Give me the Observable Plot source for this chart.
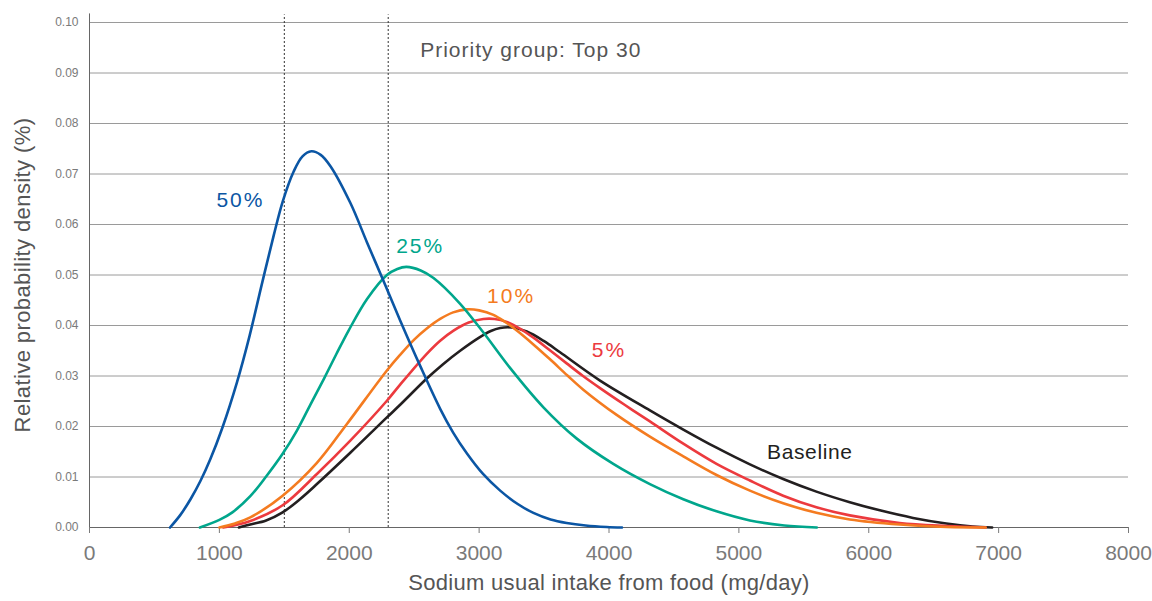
<!DOCTYPE html>
<html>
<head>
<meta charset="utf-8">
<script src="https://cdn.jsdelivr.net/npm/d3@7"></script>
<script src="https://cdn.jsdelivr.net/npm/@observablehq/plot@0.6"></script>
<style>
  html, body { margin: 0; padding: 0; background: #fff; }
  #chart svg { display: block; }
</style>
</head>
<body>
<div id="chart"></div>
<script>
// Tick values
const xTicks = [0, 1000, 2000, 3000, 4000, 5000, 6000, 7000, 8000];
const yTicks = [0, 0.01, 0.02, 0.03, 0.04, 0.05, 0.06, 0.07, 0.08, 0.09, 0.10];
const refLines = [1500, 2300];

// Series: 50% reduction (blue)
const s50X = [620, 700, 780, 854, 930, 1021, 1136, 1233, 1328, 1418, 1487, 1572, 1640, 1708, 1780, 1854, 2008, 2136, 2264, 2392, 2546, 2700, 2800, 2905, 3030, 3162, 3300, 3418, 3550, 3674, 3820, 3982, 4100];
const s50Y = [0, 0.0025, 0.0057, 0.0092, 0.0135, 0.0196, 0.0288, 0.038, 0.0483, 0.0578, 0.0645, 0.0705, 0.0735, 0.0745, 0.0738, 0.0716, 0.0643, 0.0565, 0.0488, 0.041, 0.032, 0.0235, 0.0188, 0.0147, 0.0106, 0.0073, 0.0046, 0.0029, 0.0016, 0.0009, 0.0004, 0.0001, 0];

// Series: 25% (teal)
const s25X = [850, 1000, 1100, 1238, 1360, 1487, 1597, 1700, 1802, 1900, 1995, 2136, 2290, 2370, 2440, 2550, 2649, 2854, 3033, 3238, 3495, 3752, 4033, 4315, 4572, 4828, 5085, 5350, 5600];
const s25Y = [0, 0.0015, 0.003, 0.0062, 0.0101, 0.0146, 0.0192, 0.0243, 0.0293, 0.0343, 0.039, 0.0452, 0.05, 0.0512, 0.0516, 0.0509, 0.0494, 0.0443, 0.0386, 0.0316, 0.0238, 0.0176, 0.0126, 0.0086, 0.0056, 0.0032, 0.0014, 0.0004, 0];

// Series: 10% (orange)
const s10X = [1000, 1120, 1238, 1487, 1751, 1982, 2290, 2392, 2500, 2597, 2700, 2800, 2905, 3000, 3110, 3200, 3290, 3420, 3546, 3680, 3802, 4059, 4315, 4572, 4828, 5085, 5341, 5597, 5854, 6238, 6600, 6900];
const s10Y = [0, 0.0008, 0.002, 0.0063, 0.0128, 0.0205, 0.0311, 0.0342, 0.0372, 0.0394, 0.0413, 0.0426, 0.0432, 0.043, 0.0421, 0.0407, 0.039, 0.0362, 0.0333, 0.0301, 0.0273, 0.0223, 0.018, 0.0141, 0.0104, 0.0073, 0.0048, 0.0029, 0.0016, 0.0006, 0.0001, 0];

// Series: 5% (red)
const s5X = [1030, 1238, 1487, 1751, 2008, 2290, 2392, 2597, 2700, 2803, 2920, 3033, 3120, 3213, 3320, 3418, 3540, 3674, 3800, 3931, 4120, 4315, 4572, 4828, 5085, 5341, 5597, 5854, 6238, 6600, 6900];
const s5Y = [0, 0.0013, 0.0044, 0.0106, 0.0172, 0.0251, 0.0283, 0.0344, 0.037, 0.039, 0.0406, 0.0413, 0.0413, 0.0407, 0.0393, 0.0376, 0.0352, 0.0325, 0.03, 0.0276, 0.0243, 0.021, 0.0166, 0.0126, 0.0093, 0.0063, 0.004, 0.0024, 0.0009, 0.0003, 0];

// Series: Baseline (black)
const sBX = [1150, 1238, 1360, 1487, 1620, 1751, 2008, 2290, 2392, 2597, 2720, 2854, 3000, 3090, 3162, 3250, 3367, 3500, 3623, 3931, 4315, 4572, 4828, 5085, 5341, 5597, 5854, 6085, 6341, 6597, 6800, 6950];
const sBY = [0, 0.0006, 0.0014, 0.003, 0.0056, 0.0086, 0.0148, 0.0218, 0.0243, 0.0295, 0.0323, 0.035, 0.0376, 0.0389, 0.0395, 0.0396, 0.0388, 0.0369, 0.0347, 0.0291, 0.0232, 0.0194, 0.0158, 0.0125, 0.0096, 0.0071, 0.005, 0.0034, 0.0019, 0.0008, 0.0002, 0];

// Series labels
const labelText = ["50%", "25%", "10%", "5%", "Baseline"];
const labelX = [1162, 2546, 3246, 4000, 5546];
const labelY = [0.0648, 0.0556, 0.0457, 0.035, 0.0148];
const labelColor = ["#0b56a4", "#00a68c", "#f47b20", "#ec3a3e", "#231f20"];

const titleText = "Priority group: Top 30";
const xLabel = "Sodium usual intake from food (mg/day)";
const yLabel = "Relative probability density (%)";

const zip = (xs, ys) => xs.map((x, i) => ({x, y: ys[i]}));
const series = [
  {data: zip(sBX, sBY), color: "#231f20"},
  {data: zip(s5X, s5Y), color: "#ec3a3e"},
  {data: zip(s10X, s10Y), color: "#f47b20"},
  {data: zip(s25X, s25Y), color: "#00a68c"},
  {data: zip(s50X, s50Y), color: "#0b56a4"}
];
const labels = labelText.map((t, i) => ({t, x: labelX[i], y: labelY[i], c: labelColor[i]}));

const chart = Plot.plot({
  width: 1152,
  height: 601,
  marginLeft: 89,
  marginRight: 24,
  marginTop: 22,
  marginBottom: 74,
  x: {domain: [0, 8000]},
  y: {domain: [0, 0.1]},
  style: {fontFamily: "'Liberation Sans', Arial, sans-serif", background: "#fff", overflow: "visible"},
  marks: [
    Plot.gridY(yTicks.slice(1), {stroke: "#9a9a9a", strokeOpacity: 1, strokeWidth: 1}),
    Plot.ruleX(refLines, {y1: 0, y2: 0.1015, stroke: "#333", strokeDasharray: "2,2", strokeWidth: 1}),
    Plot.ruleX([0], {y1: 0, y2: 0.1017, stroke: "#666", strokeWidth: 1}),
    Plot.ruleY([0], {stroke: "#666", strokeWidth: 1}),
    Plot.axisX({ticks: xTicks, tickSize: 6, tickPadding: 12, fontSize: 21, color: "#7a7a7a", label: null, tickFormat: d => String(d)}),
    Plot.axisY({ticks: yTicks, tickSize: 0, tickPadding: 11, fontSize: 12, color: "#7a7a7a", label: null, tickFormat: d3.format(".2f")}),
    ...series.map(s => Plot.line(s.data, {x: "x", y: "y", curve: "catmull-rom", stroke: s.color, strokeWidth: 2.6})),
    Plot.text(labels, {x: "x", y: "y", text: "t", fill: "c", fontSize: 21}),
    Plot.text([titleText], {x: 2546, y: 0.0945, text: d => d, textAnchor: "start", fontSize: 21, fill: "#555"}),
    Plot.text([xLabel], {frameAnchor: "bottom", dy: 62, text: d => d, fontSize: 22, fill: "#555"}),
    Plot.text([yLabel], {frameAnchor: "left", textAnchor: "middle", dx: -67, rotate: -90, text: d => d, fontSize: 22, fill: "#555"})
  ]
});
document.getElementById("chart").appendChild(chart);

// Letter spacing to mimic the wider original typeface
const spacing = new Map([
  [titleText, 1], [xLabel, 0.3], [yLabel, 0.4],
  ["50%", 2], ["25%", 2], ["10%", 2], ["5%", 2], ["Baseline", 0.6]
]);
d3.select(chart).selectAll("text").each(function() {
  const s = spacing.get(this.textContent);
  if (s != null) this.setAttribute("letter-spacing", s);
});
</script>
</body>
</html>
